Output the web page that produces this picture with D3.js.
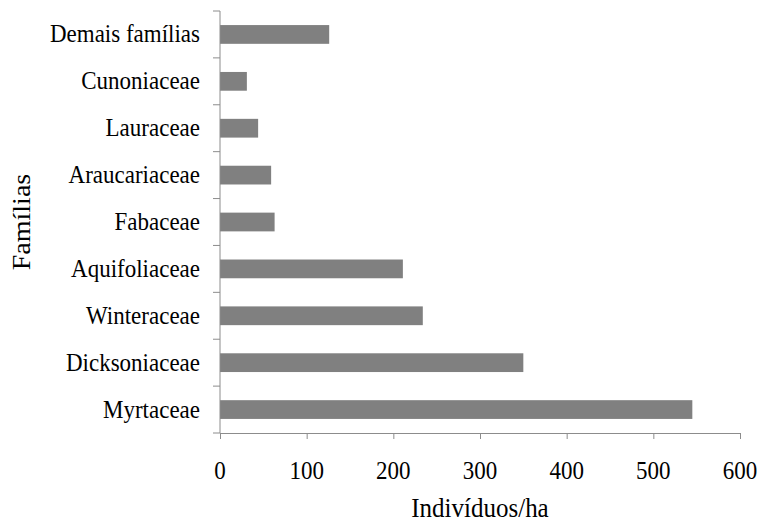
<!DOCTYPE html>
<html>
<head>
<meta charset="utf-8">
<script src="https://cdn.jsdelivr.net/npm/d3@7"></script>
<style>
  body { margin: 0; background: #fff; }
  text { font-family: "Liberation Serif", "Times New Roman", serif; fill: #000; }
</style>
</head>
<body>
<svg id="chart" width="760" height="524"></svg>
<script>
// familias, de cima para baixo
var familias = ["Demais famílias", "Cunoniaceae", "Lauraceae", "Araucariaceae", "Fabaceae",
                "Aquifoliaceae", "Winteraceae", "Dicksoniaceae", "Myrtaceae"];
var individuos = [126, 31, 44, 59, 63, 211, 234, 350, 545];
var xTicks = [0, 100, 200, 300, 400, 500, 600];

var svg = d3.select("#chart");
var mLeft = 220, mRight = 740, mTop = 11, mBottom = 433;
var axisColor = "#8c8c8c";
var stretch = 1.12; // texto levemente esticado na vertical

var x = d3.scaleLinear().domain([0, 600]).range([mLeft, mRight]);
var y = d3.scaleBand().domain(familias).range([mTop, mBottom]).paddingInner(0.6).paddingOuter(0.3);

/* barras */
svg.selectAll("rect.bar")
    .data(familias)
    .enter().append("rect")
    .attr("class", "bar")
    .attr("x", x(0))
    .attr("y", function(d) { return y(d); })
    .attr("width", function(d, i) { return x(individuos[i]) - x(0); })
    .attr("height", y.bandwidth())
    .attr("fill", "#808080");

/* eixo x */
var xAxis = svg.append("g")
    .attr("transform", "translate(0," + mBottom + ")")
    .call(d3.axisBottom(x).tickValues(xTicks).tickSize(6).tickSizeOuter(0).tickFormat(""));
xAxis.select(".domain").attr("stroke", axisColor);
xAxis.selectAll(".tick line").attr("stroke", axisColor);

svg.selectAll("text.xtick")
    .data(xTicks)
    .enter().append("text")
    .attr("class", "xtick")
    .attr("transform", function(d) { return "translate(" + x(d) + ",479) scale(1," + stretch + ")"; })
    .attr("text-anchor", "middle")
    .style("font-size", "23px")
    .text(function(d) { return d; });

/* eixo y: marcas nos limites das categorias */
var step = (mBottom - mTop) / familias.length;
svg.append("line")
    .attr("x1", mLeft).attr("x2", mLeft)
    .attr("y1", mTop).attr("y2", mBottom)
    .attr("stroke", axisColor);
for (var i = 0; i <= familias.length; i++) {
    svg.append("line")
        .attr("x1", mLeft - 7).attr("x2", mLeft)
        .attr("y1", mTop + i * step).attr("y2", mTop + i * step)
        .attr("stroke", axisColor);
}
svg.selectAll("text.cat")
    .data(familias)
    .enter().append("text")
    .attr("class", "cat")
    .attr("transform", function(d) {
        return "translate(" + (mLeft - 20) + "," + (y(d) + y.bandwidth() / 2 + 8) + ") scale(1," + stretch + ")";
    })
    .attr("text-anchor", "end")
    .style("font-size", "23px")
    .text(function(d) { return d; });

/* titulos */
svg.append("text")
    .attr("transform", "translate(" + ((mLeft + mRight) / 2) + ",517) scale(1," + stretch + ")")
    .attr("text-anchor", "middle")
    .style("font-size", "25px")
    .text("Indivíduos/ha");

svg.append("text")
    .attr("transform", "translate(30,222) rotate(-90) scale(" + stretch + ",1)")
    .attr("text-anchor", "middle")
    .style("font-size", "25px")
    .text("Famílias");
</script>
</body>
</html>
